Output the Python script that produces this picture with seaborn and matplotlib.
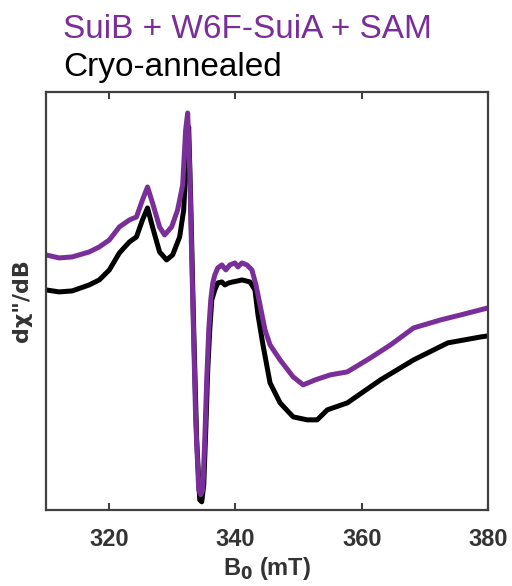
import numpy as np
import pandas as pd
import matplotlib
matplotlib.use("Agg")
import matplotlib.pyplot as plt
import seaborn as sns

# ---------------- data (arbitrary units) ----------------#
field_purple = [310.00, 312.07, 314.14, 316.84, 318.43, 320.02, 321.61, 323.20, 324.32, 325.27,
                326.07, 326.86, 327.98, 328.77, 329.89, 330.84, 331.64, 332.11, 332.43, 332.75,
                333.23, 333.70, 334.18, 334.50, 334.82, 335.14, 335.45, 335.77, 336.09, 336.41,
                336.73, 337.20, 337.84, 338.48, 339.11, 339.91, 340.39, 341.02, 341.82, 342.61,
                343.25, 343.89, 344.68, 345.48, 347.07, 349.14, 350.73, 352.64, 355.02, 357.73,
                361.39, 364.57, 368.23, 372.52, 375.70, 380.00]
signal_purple = [255, 252, 253, 258, 263, 270, 283, 290, 293, 310,
                 323, 307, 283, 275, 283, 300, 325, 380, 397, 340,
                 210, 90, 20, 15, 20, 70, 130, 180, 210, 227,
                 235, 242, 245, 240, 245, 247, 243, 247, 245, 240,
                 225, 205, 180, 165, 150, 133, 125, 130, 135, 138,
                 152, 165, 182, 190, 195, 202]

field_black = [310.00, 312.07, 314.14, 316.84, 318.43, 320.02, 321.61, 323.20, 324.32, 325.27,
               326.07, 326.86, 327.98, 329.09, 330.05, 331.16, 331.80, 332.27, 332.59, 332.91,
               333.39, 333.86, 334.34, 334.66, 334.98, 335.30, 335.61, 335.93, 336.25, 336.73,
               337.20, 337.84, 338.32, 338.95, 339.59, 340.39, 341.02, 341.66, 342.30, 343.09,
               343.57, 344.36, 345.48, 347.07, 349.14, 351.36, 352.95, 354.55, 357.73, 362.98,
               368.23, 373.64, 378.89, 380.00]
signal_black = [220, 218, 219, 225, 230, 240, 257, 268, 273, 290,
                302, 283, 258, 250, 255, 273, 300, 360, 383, 310,
                180, 70, 10, 8, 25, 80, 140, 180, 210, 220,
                227, 228, 225, 227, 228, 229, 230, 229, 228, 220,
                195, 165, 127, 107, 93, 90, 90, 100, 107, 130,
                150, 167, 173, 174]

purple = "#7a2e9a"
x_ticks = [320, 340, 360, 380]

df_p = pd.DataFrame({"B0": field_purple, "signal": signal_purple})
df_k = pd.DataFrame({"B0": field_black, "signal": signal_black})

sns.set_style("white")
plt.rcParams["font.family"] = ["Liberation Sans", "DejaVu Sans"]

fig = plt.figure(figsize=(5.12, 5.86), dpi=100)
ax = fig.add_axes([0.090, 0.130, 0.863, 0.713])

sns.lineplot(data=df_k, x="B0", y="signal", color="black", lw=3.6, ax=ax)
sns.lineplot(data=df_p, x="B0", y="signal", color=purple, lw=3.6, ax=ax)

ax.set_xlim(310, 380)
ax.set_ylim(0, 418)
ax.set_xticks(x_ticks)
ax.set_xticklabels([str(t) for t in x_ticks], fontsize=17, fontweight="bold", color="#333333")
ax.set_yticks([])
ax.tick_params(axis="x", direction="in", length=5, width=1.5, color="#404040",
               top=True, bottom=True, pad=13)
for s in ax.spines.values():
    s.set_color("#404040")
    s.set_linewidth(1.6)

ax.set_xlabel(r"B$_\mathbf{0}$ (mT)", fontsize=17, fontweight="bold", color="#333333", labelpad=3)
ax.set_ylabel("d\u03c7\"/dB", fontsize=16, fontweight="bold", color="#333333", labelpad=10,
              family=["DejaVu Sans"])

fig.text(0.123, 0.935, "SuiB + W6F-SuiA + SAM", color=purple, fontsize=24, va="baseline")
fig.text(0.123, 0.870, "Cryo-annealed", color="black", fontsize=24, va="baseline")

fig.savefig("out.png", dpi=100)
